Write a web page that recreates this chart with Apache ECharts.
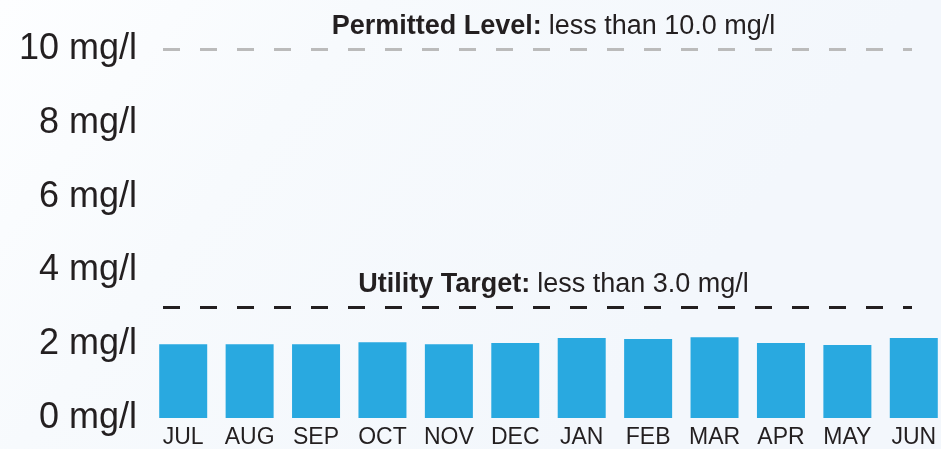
<!DOCTYPE html>
<html>
<head>
<meta charset="utf-8">
<script src="https://cdn.jsdelivr.net/npm/echarts@6/dist/echarts.min.js"></script>
<style>
html,body{margin:0;padding:0;overflow:hidden;width:941px;height:449px;}
#chart{width:947px;height:449px;}
</style>
</head>
<body>
<div id="chart"></div>
<script>
// ---- data ----
const categories = ['JUL','AUG','SEP','OCT','NOV','DEC','JAN','FEB','MAR','APR','MAY','JUN'];
const values = [2.0, 2.0, 2.0, 2.05, 2.0, 2.03, 2.17, 2.14, 2.19, 2.03, 1.98, 2.17];
const yMin = 0, yMax = 10, yStep = 2;
const yUnit = 'mg/l';
const limitValues = [10, 3];
const limitTitles = ['Permitted Level:', 'Utility Target:'];
const limitTexts = ['less than 10.0 mg/l', 'less than 3.0 mg/l'];

// ---- styles ----
const FONT = 'Liberation Sans, Arial, sans-serif';
const TEXT = '#231F20';
const limitColors = ['#BBBBBB', '#231F20'];

const chart = echarts.init(document.getElementById('chart'));
const gridTop = 49, gridBottom = 31;

chart.setOption({
  backgroundColor: {
    type: 'linear', x: 0, y: 0, x2: 0.6, y2: 1,
    colorStops: [{offset: 0, color: '#FDFEFF'}, {offset: 0.4, color: '#F7FAFD'}, {offset: 1, color: '#F3F7FC'}]
  },
  animation: false,
  grid: [
    {left: 150, right: 0, top: gridTop, bottom: gridBottom},
    {left: 163, right: 35, top: gridTop, bottom: gridBottom}
  ],
  xAxis: [
    {
      type: 'category', gridIndex: 0, data: categories,
      axisLine: {show: false}, axisTick: {show: false},
      axisLabel: {color: TEXT, fontFamily: FONT, fontSize: 23, margin: 8, interval: 0}
    },
    {type: 'value', gridIndex: 1, min: 0, max: 1, show: false}
  ],
  yAxis: [
    {
      type: 'value', gridIndex: 0, min: yMin, max: yMax, interval: yStep,
      axisLine: {show: false}, axisTick: {show: false}, splitLine: {show: false},
      axisLabel: {color: TEXT, fontFamily: FONT, fontSize: 36, margin: 13,
        formatter: v => v + ' ' + yUnit}
    },
    {type: 'value', gridIndex: 1, min: yMin, max: yMax, show: false}
  ],
  series: [
    {
      type: 'bar', xAxisIndex: 0, yAxisIndex: 0, data: values,
      barWidth: 48, itemStyle: {color: '#29A9E0'}, silent: true
    },
    {
      type: 'line', xAxisIndex: 1, yAxisIndex: 1, data: [],
      markLine: {
        silent: true, symbol: 'none',
        data: limitValues.map((v, i) => ({
          yAxis: v,
          lineStyle: {color: limitColors[i], width: 3, type: [17, 20]},
          label: {
            show: true, position: 'insideMiddleTop', distance: 9,
            padding: [0, 0, 0, 32],
            formatter: '{b|' + limitTitles[i] + '}{s| }{r|' + limitTexts[i] + '}',
            rich: {
              b: {fontFamily: FONT, fontSize: 27, fontWeight: 'bold', color: TEXT},
              s: {fontFamily: FONT, fontSize: 27, color: TEXT, width: 7},
              r: {fontFamily: FONT, fontSize: 27, color: TEXT}
            }
          }
        }))
      }
    }
  ]
});
</script>
</body>
</html>
